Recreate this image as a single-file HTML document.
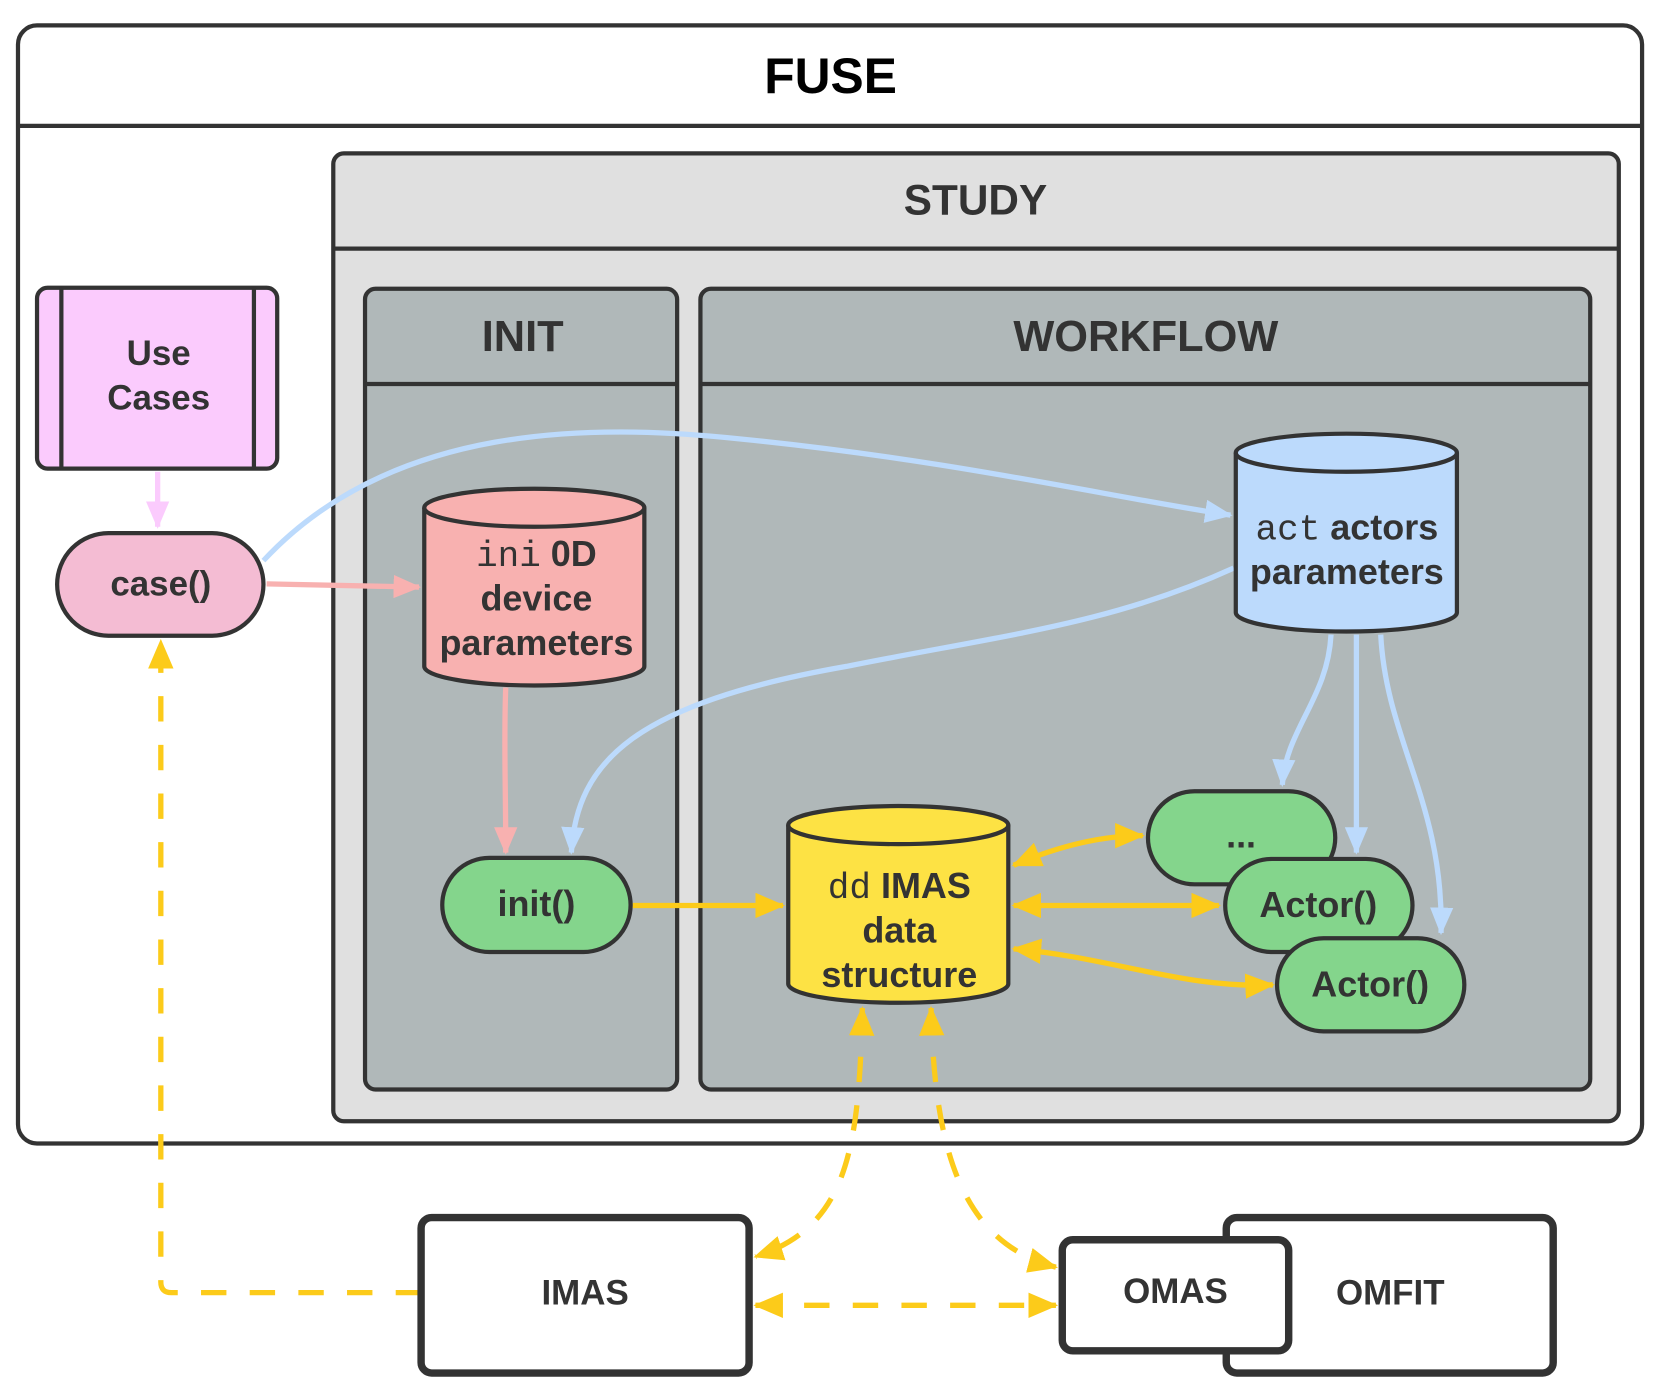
<!DOCTYPE html>
<html><head><meta charset="utf-8"><style>
html,body{margin:0;padding:0;background:#fff;}
svg{display:block;}
text{font-family:"Liberation Sans",sans-serif;font-weight:bold;fill:#333;text-anchor:middle;}
.m{font-family:"Liberation Mono",monospace;font-weight:normal;}
</style></head><body>
<svg width="1659" height="1391" viewBox="0 0 1568 1315" preserveAspectRatio="none" xmlns="http://www.w3.org/2000/svg">
<defs>
<marker id="ab" markerUnits="userSpaceOnUse" markerWidth="26" markerHeight="22" refX="24" refY="11" orient="auto-start-reverse"><path d="M0,0 L26,11 L0,22 Z" fill="#bcdafc"/></marker>
<marker id="ap" markerUnits="userSpaceOnUse" markerWidth="26" markerHeight="22" refX="24" refY="11" orient="auto-start-reverse"><path d="M0,0 L26,11 L0,22 Z" fill="#f8b1b0"/></marker>
<marker id="am" markerUnits="userSpaceOnUse" markerWidth="26" markerHeight="22" refX="24" refY="11" orient="auto-start-reverse"><path d="M0,0 L26,11 L0,22 Z" fill="#fbcbfd"/></marker>
<marker id="ay" markerUnits="userSpaceOnUse" markerWidth="28" markerHeight="24" refX="26" refY="12" orient="auto-start-reverse"><path d="M0,0 L28,12 L0,24 Z" fill="#fccb1a"/></marker>
</defs>
<g stroke="#333" stroke-width="4">
<rect x="17" y="24" width="1535" height="1057" rx="18" fill="#fff"/>
<line x1="17" y1="119" x2="1552" y2="119"/>
<rect x="315" y="145" width="1215" height="915" rx="10" fill="#e0e0e0"/>
<line x1="315" y1="235" x2="1530" y2="235"/>
<rect x="345" y="273" width="295" height="757" rx="10" fill="#b0b8b9"/>
<line x1="345" y1="363" x2="640" y2="363"/>
<rect x="662" y="273" width="841" height="757" rx="10" fill="#b0b8b9"/>
<line x1="662" y1="363" x2="1503" y2="363"/>
<rect x="35" y="272" width="227" height="171" rx="10" fill="#fbcbfd"/>
<line x1="58" y1="272" x2="58" y2="443"/><line x1="240" y1="272" x2="240" y2="443"/>
<rect x="54" y="504" width="195" height="97" rx="48.5" fill="#f4bcd3"/>
</g>
<text x="785" y="88" font-size="47" style="fill:#000">FUSE</text>
<text x="922" y="203" font-size="40">STUDY</text>
<text x="494" y="332" font-size="41">INIT</text>
<text x="1083" y="332" font-size="41">WORKFLOW</text>
<text x="150" y="345" font-size="33">Use</text>
<text x="150" y="387" font-size="33">Cases</text>
<text x="152" y="563" font-size="33">case()</text>

<g fill="none" stroke-width="5">
<path d="M149,446 L149,498" stroke="#fbcbfd" marker-end="url(#am)"/>
<path d="M252,552 L396,555" stroke="#f8b1b0" marker-end="url(#ap)"/>
<path d="M249,530 C370,400 560,400 700,415 C900,435 1050,470 1163,487" stroke="#bcdafc" marker-end="url(#ab)"/>
<path d="M1166,537 C1050,590 950,600 800,630 C600,665 545,720 540,806" stroke="#bcdafc" marker-end="url(#ab)"/>
<path d="M1258,600 C1255,660 1215,690 1212,742" stroke="#bcdafc" marker-end="url(#ab)"/>
<path d="M1282,600 L1282,806" stroke="#bcdafc" marker-end="url(#ab)"/>
<path d="M1305,600 C1310,700 1365,760 1362,882" stroke="#bcdafc" marker-end="url(#ab)"/>
<path d="M478,650 C476,700 478,740 478,806" stroke="#f8b1b0" marker-end="url(#ap)"/>
<path d="M598,856 L740,856" stroke="#fccb1a" marker-end="url(#ay)"/>
<path d="M958,818 C1000,800 1040,790 1080,790" stroke="#fccb1a" marker-start="url(#ay)" marker-end="url(#ay)"/>
<path d="M958,856 L1152,856" stroke="#fccb1a" marker-start="url(#ay)" marker-end="url(#ay)"/>
<path d="M958,897 C1050,905 1120,935 1203,931" stroke="#fccb1a" marker-start="url(#ay)" marker-end="url(#ay)"/>
<g stroke-dasharray="24 22">
<path d="M398,1222 L162,1222 Q152,1222 152,1212 L152,606" stroke="#fccb1a" marker-end="url(#ay)"/>
<path d="M815,953 C812,1090 800,1160 714,1188" stroke="#fccb1a" marker-start="url(#ay)" marker-end="url(#ay)"/>
<path d="M880,953 C883,1090 910,1175 998,1198" stroke="#fccb1a" marker-start="url(#ay)" marker-end="url(#ay)"/>
<path d="M714,1234 L998,1234" stroke="#fccb1a" marker-start="url(#ay)" marker-end="url(#ay)"/>
</g>
</g>

<g stroke="#333" stroke-width="4">
<path d="M401,480 L401,630 A104,18 0 0 0 609,630 L609,480" fill="#f8b1b0"/>
<ellipse cx="505" cy="480" rx="104" ry="18" fill="#f8b1b0"/>
<path d="M1168,428 L1168,579 A104.5,18 0 0 0 1377,579 L1377,428" fill="#bcdafc"/>
<ellipse cx="1272.5" cy="428" rx="104.5" ry="18" fill="#bcdafc"/>
<path d="M745,780 L745,930 A104,18 0 0 0 953,930 L953,780" fill="#fde244"/>
<ellipse cx="849" cy="780" rx="104" ry="18" fill="#fde244"/>
<rect x="418" y="811" width="178" height="89" rx="44.5" fill="#84d58c"/>
<rect x="1085" y="748" width="177" height="88" rx="44" fill="#84d58c"/>
<rect x="1158" y="812" width="177" height="88" rx="44" fill="#84d58c"/>
<rect x="1207" y="887" width="177" height="88" rx="44" fill="#84d58c"/>
</g>
<text x="507" y="535" font-size="34"><tspan class="m">ini</tspan> 0D</text>
<text x="507" y="577" font-size="34">device</text>
<text x="507" y="619" font-size="34">parameters</text>
<text x="1273" y="510" font-size="34"><tspan class="m">act</tspan> actors</text>
<text x="1273" y="552" font-size="34">parameters</text>
<text x="850" y="849" font-size="34"><tspan class="m">dd</tspan> IMAS</text>
<text x="850" y="891" font-size="34">data</text>
<text x="850" y="933" font-size="34">structure</text>
<text x="507" y="866" font-size="34">init()</text>
<text x="1173" y="801" font-size="34">...</text>
<text x="1246" y="867" font-size="34">Actor()</text>
<text x="1295" y="942" font-size="34">Actor()</text>

<g stroke="#333" stroke-width="7" fill="#fff">
<rect x="398" y="1151" width="310" height="147" rx="10"/>
<rect x="1159" y="1151" width="309" height="147" rx="10"/>
<rect x="1004" y="1172" width="214" height="105" rx="10"/>
</g>
<text x="553" y="1233" font-size="33">IMAS</text>
<text x="1111" y="1232" font-size="33">OMAS</text>
<text x="1314" y="1233" font-size="33">OMFIT</text>
</svg>
</body></html>
